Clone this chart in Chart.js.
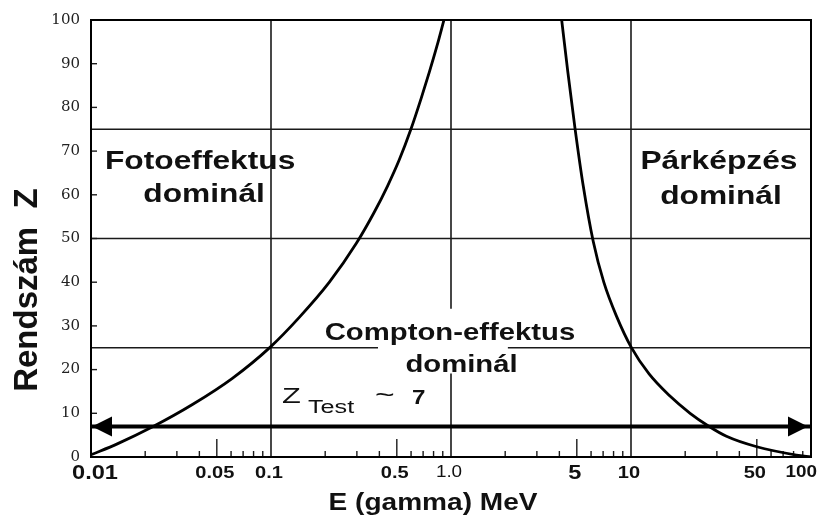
<!DOCTYPE html>
<html>
<head>
<meta charset="utf-8">
<script src="https://cdn.jsdelivr.net/npm/chart.js@4.4.1/dist/chart.umd.min.js"></script>
<style>
html, body { margin: 0; padding: 0; background: #fff; }
canvas { display: block; }
</style>
</head>
<body>
<canvas id="chart" width="820" height="515"></canvas>
<script>
// boundary curves (E in MeV, Z)
const photoE = [0.01, 0.014, 0.022, 0.0366, 0.061, 0.0994, 0.144, 0.211, 0.298, 0.3745, 0.444, 0.516, 0.600, 0.682, 0.757, 0.835, 0.914];
const photoZ = [0.5, 3, 6.9, 12, 18, 25.2, 32, 40, 48.9, 56, 62, 68, 75.1, 82, 88, 94, 100];
const pairE = [4.12, 4.46, 4.89, 5.43, 6.17, 7.06, 8.35, 10, 12.6, 16.4, 21.3, 26.9, 33.9, 50, 83, 100];
const pairZ = [100, 88, 75.1, 62, 49.3, 40, 32, 25.2, 19, 14, 10, 7.1, 4.75, 2.35, 0.45, 0];
const zTest = 7;

const xTicks = [0.01, 0.05, 0.1, 0.5, 1, 5, 10, 50, 100];
const xTickLabels = ['0.01', '0.05', '0.1', '0.5', '1.0', '5', '10', '50', '100'];
const gridE = [0.1, 1, 10];
const gridZ = [25, 50, 75];

const toPoints = (xs, ys) => xs.map((x, i) => ({ x: x, y: ys[i] }));

const SANS = '"Liberation Sans", Arial, sans-serif';
const INK = '#111';

// per-label fonts, the scan mixes sizes
const xTickFont = {
    '0.01': 'bold 20px', '0.05': 'bold 17px', '0.1': 'bold 17px', '0.5': 'bold 17px',
    '1.0': '16px', '5': 'bold 20px', '10': 'bold 17px', '50': 'bold 17px', '100': 'bold 16px'
};

function wideText(ctx, text, x, y, font, align, sx) {
    ctx.save();
    ctx.font = font;
    ctx.textAlign = align || 'center';
    ctx.textBaseline = 'alphabetic';
    ctx.translate(x, y);
    ctx.scale(sx || 1.22, 1);
    ctx.fillText(text, 0, 0);
    ctx.restore();
}

const figurePlugin = {
    id: 'figure',
    beforeDatasetsDraw(chart) {
        const { ctx, chartArea: a, scales: { x, y } } = chart;
        ctx.save();
        ctx.strokeStyle = '#1a1a1a';
        ctx.lineWidth = 1.6;

        // vertical grid, the 1 MeV line is broken for the Compton label
        gridE.forEach(e => {
            const px = x.getPixelForValue(e);
            ctx.beginPath();
            if (e === 1) {
                ctx.moveTo(px, a.top);
                ctx.lineTo(px, y.getPixelForValue(33.9));
                ctx.moveTo(px, y.getPixelForValue(19.1));
                ctx.lineTo(px, a.bottom);
            } else {
                ctx.moveTo(px, a.top);
                ctx.lineTo(px, a.bottom);
            }
            ctx.stroke();
        });

        gridZ.forEach(z => {
            const py = y.getPixelForValue(z);
            ctx.beginPath();
            if (z === 25) {
                ctx.moveTo(a.left, py);
                ctx.lineTo(x.getPixelForValue(0.393), py);
                ctx.moveTo(x.getPixelForValue(2.07), py);
                ctx.lineTo(a.right, py);
            } else {
                ctx.moveTo(a.left, py);
                ctx.lineTo(a.right, py);
            }
            ctx.stroke();
        });

        // minor ticks along the energy axis
        ctx.lineWidth = 1.4;
        [0.01, 0.1, 1, 10].forEach(d => {
            for (let m = 2; m <= 9; m++) {
                const px = x.getPixelForValue(m * d);
                const len = m === 5 ? 18 : 6;
                ctx.beginPath();
                ctx.moveTo(px, a.bottom);
                ctx.lineTo(px, a.bottom - len);
                ctx.stroke();
            }
        });
        // small ticks on the Z axis
        y.ticks.forEach(t => {
            if (t.value <= 0 || t.value >= 100) return;
            const py = y.getPixelForValue(t.value);
            ctx.beginPath();
            ctx.moveTo(a.left, py);
            ctx.lineTo(a.left + 6, py);
            ctx.stroke();
        });
        ctx.restore();
    },
    afterDatasetsDraw(chart) {
        const { ctx, chartArea: a, scales: { x, y } } = chart;
        ctx.save();

        // frame
        ctx.strokeStyle = '#000';
        ctx.lineWidth = 2;
        ctx.strokeRect(a.left, a.top, a.right - a.left, a.bottom - a.top);

        // arrow heads on the Z test line
        const ay = y.getPixelForValue(zTest);
        const lx = x.getPixelForValue(x.min);
        const rx = x.getPixelForValue(x.max);
        ctx.fillStyle = '#000';
        ctx.beginPath();
        ctx.moveTo(lx + 1, ay);
        ctx.lineTo(lx + 21, ay - 10);
        ctx.lineTo(lx + 21, ay + 10);
        ctx.closePath();
        ctx.fill();
        ctx.beginPath();
        ctx.moveTo(rx - 3, ay);
        ctx.lineTo(rx - 23, ay - 10);
        ctx.lineTo(rx - 23, ay + 10);
        ctx.closePath();
        ctx.fill();

        // region labels
        ctx.fillStyle = INK;
        const big = 'bold 26px ' + SANS;
        const mid = 'bold 24px ' + SANS;
        wideText(ctx, 'Fotoeffektus', x.getPixelForValue(0.0404), y.getPixelForValue(65.9), big);
        wideText(ctx, 'dominál', x.getPixelForValue(0.0425), y.getPixelForValue(58.4), big);
        wideText(ctx, 'Párképzés', x.getPixelForValue(30.8), y.getPixelForValue(65.9), big);
        wideText(ctx, 'dominál', x.getPixelForValue(31.6), y.getPixelForValue(58), big);
        wideText(ctx, 'Compton-effektus', x.getPixelForValue(0.987), y.getPixelForValue(26.8), mid);
        wideText(ctx, 'dominál', x.getPixelForValue(1.144), y.getPixelForValue(19.4), mid);

        // Z_Test ~ 7
        const zx = x.getPixelForValue(0.115);
        const zy = y.getPixelForValue(12.3);
        wideText(ctx, 'Z', zx, zy, '500 22px ' + SANS, 'left', 1.4);
        wideText(ctx, 'Test', zx + 26, zy + 10, '18px ' + SANS, 'left', 1.4);
        wideText(ctx, '~', zx + 93, zy, '24px ' + SANS, 'left', 1.4);
        wideText(ctx, '7', zx + 130, zy + 1, 'bold 21px ' + SANS, 'left', 1.15);

        // energy tick labels
        xTicks.forEach((v, i) => {
            const lbl = xTickLabels[i];
            const px = x.getPixelForValue(v);
            const last = i === xTicks.length - 1;
            ctx.save();
            ctx.font = xTickFont[lbl] + ' ' + SANS;
            ctx.textBaseline = 'middle';
            ctx.textAlign = last ? 'right' : 'center';
            ctx.translate(last ? px + 6 : px + (i === 0 ? 4 : -2), a.bottom + 16);
            ctx.scale(1.18, 1);
            ctx.fillText(lbl, 0, 0);
            ctx.restore();
        });

        // axis titles
        wideText(ctx, 'E (gamma) MeV', (a.left + a.right) / 2 - 18, a.bottom + 53, 'bold 23px ' + SANS);
        ctx.save();
        ctx.translate(28, y.getPixelForValue(38.2));
        ctx.rotate(-Math.PI / 2);
        ctx.font = 'bold 33px ' + SANS;
        ctx.textAlign = 'center';
        ctx.textBaseline = 'middle';
        ctx.fillText('Rendszám  Z', 0, 0);
        ctx.restore();

        ctx.restore();
    }
};

const ctx = document.getElementById('chart').getContext('2d');
new Chart(ctx, {
    type: 'scatter',
    data: {
        datasets: [
            {
                label: 'Foto / Compton',
                data: toPoints(photoE, photoZ),
                showLine: true,
                borderColor: '#000',
                borderWidth: 2.8,
                pointRadius: 0,
                cubicInterpolationMode: 'monotone'
            },
            {
                label: 'Compton / pár',
                data: toPoints(pairE, pairZ),
                showLine: true,
                borderColor: '#000',
                borderWidth: 2.8,
                pointRadius: 0,
                cubicInterpolationMode: 'monotone'
            },
            {
                label: 'Z Test',
                data: [{ x: xTicks[0], y: zTest }, { x: xTicks[xTicks.length - 1], y: zTest }],
                showLine: true,
                borderColor: '#000',
                borderWidth: 4,
                pointRadius: 0
            }
        ]
    },
    options: {
        responsive: false,
        animation: false,
        devicePixelRatio: 1,
        layout: { padding: { left: 0, right: 9, top: 17, bottom: 0 } },
        plugins: {
            legend: { display: false },
            tooltip: { enabled: false }
        },
        scales: {
            x: {
                type: 'logarithmic',
                min: 0.01,
                max: 100,
                grid: { display: false },
                border: { display: false },
                ticks: { display: false },
                afterFit: s => { s.height = 58; }
            },
            y: {
                min: 0,
                max: 100,
                grid: { display: false, drawTicks: false },
                border: { display: false },
                ticks: {
                    stepSize: 10,
                    padding: 11,
                    color: '#222',
                    font: { family: '"DejaVu Serif", serif', size: 15 }
                },
                afterFit: s => { s.width = 91; }
            }
        }
    },
    plugins: [figurePlugin]
});
</script>
</body>
</html>
